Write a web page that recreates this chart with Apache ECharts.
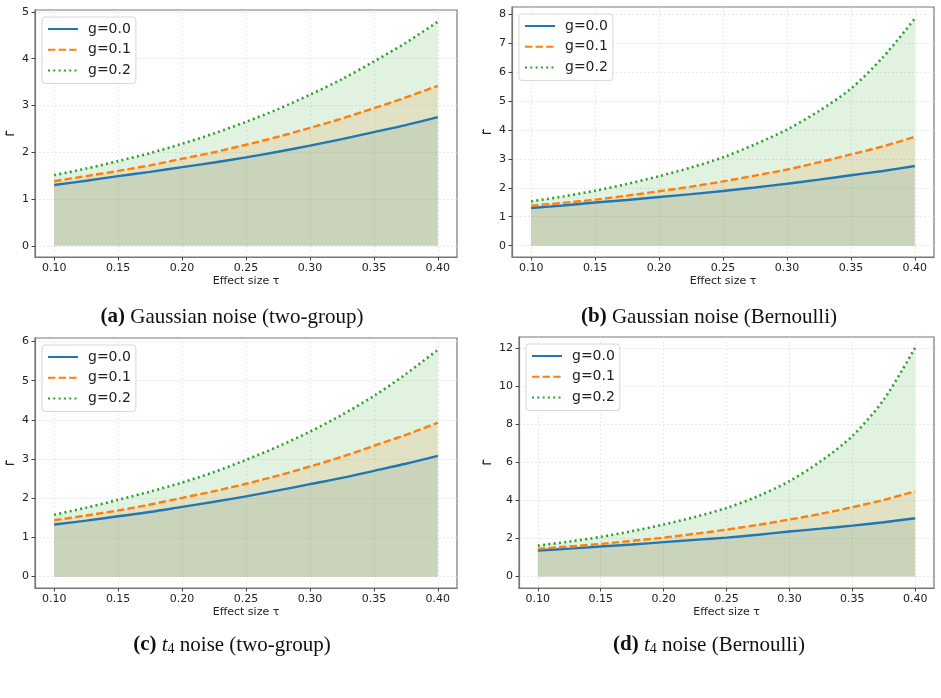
<!DOCTYPE html>
<html>
<head>
<meta charset="utf-8">
<script src="https://cdn.jsdelivr.net/npm/echarts@6/dist/echarts.min.js"></script>
<style>
  html, body { margin: 0; padding: 0; background: #fff; }
  #main { width: 941px; height: 698px; }
</style>
</head>
<body>
<div id="main"></div>
<script>
// effect size tau
const tau = [0.1, 0.125, 0.15, 0.175, 0.2, 0.225, 0.25, 0.275, 0.3, 0.325, 0.35, 0.375, 0.4]
const xTicks = [0.1, 0.15, 0.2, 0.25, 0.3, 0.35, 0.4]
const names = ['g=0.0', 'g=0.1', 'g=0.2']

// (a) Gaussian noise (two-group)
const aG0 = [1.30, 1.39, 1.49, 1.58, 1.68, 1.78, 1.89, 2.01, 2.14, 2.28, 2.43, 2.58, 2.75]
const aG1 = [1.38, 1.49, 1.60, 1.72, 1.86, 2.00, 2.16, 2.33, 2.52, 2.72, 2.94, 3.17, 3.42]
const aG2 = [1.51, 1.65, 1.81, 1.98, 2.18, 2.40, 2.65, 2.92, 3.23, 3.56, 3.94, 4.34, 4.79]
// (b) Gaussian noise (Bernoulli)
const bG0 = [1.30, 1.39, 1.49, 1.58, 1.68, 1.78, 1.89, 2.01, 2.14, 2.28, 2.43, 2.58, 2.75]
const bG1 = [1.38, 1.48, 1.59, 1.73, 1.88, 2.04, 2.22, 2.42, 2.63, 2.88, 3.15, 3.43, 3.76]
const bG2 = [1.53, 1.70, 1.90, 2.13, 2.40, 2.70, 3.05, 3.50, 4.01, 4.65, 5.42, 6.50, 7.84]
// (c) t4 noise (two-group)
const cG0 = [1.33, 1.43, 1.54, 1.65, 1.78, 1.91, 2.05, 2.20, 2.36, 2.52, 2.70, 2.88, 3.08]
const cG1 = [1.44, 1.56, 1.69, 1.84, 2.01, 2.18, 2.37, 2.58, 2.81, 3.06, 3.34, 3.62, 3.93]
const cG2 = [1.58, 1.76, 1.96, 2.17, 2.40, 2.67, 2.98, 3.32, 3.70, 4.13, 4.61, 5.17, 5.79]
// (d) t4 noise (Bernoulli)
const dG0 = [1.37, 1.47, 1.58, 1.69, 1.81, 1.93, 2.05, 2.20, 2.37, 2.52, 2.68, 2.86, 3.07]
const dG1 = [1.46, 1.58, 1.72, 1.88, 2.05, 2.25, 2.47, 2.72, 3.00, 3.30, 3.65, 4.03, 4.49]
const dG2 = [1.63, 1.84, 2.09, 2.39, 2.74, 3.14, 3.61, 4.23, 5.02, 6.07, 7.39, 9.30, 12.04]

const panels = [
    { data: [aG0, aG1, aG2], yMin: -0.24, yMax: 5.04, yTicks: [0, 1, 2, 3, 4, 5],
      grid: { left: 35, top: 10, width: 422, height: 247 } },
    { data: [bG0, bG1, bG2], yMin: -0.39, yMax: 8.24, yTicks: [0, 1, 2, 3, 4, 5, 6, 7, 8],
      grid: { left: 512, top: 7, width: 422, height: 250 } },
    { data: [cG0, cG1, cG2], yMin: -0.29, yMax: 6.09, yTicks: [0, 1, 2, 3, 4, 5, 6],
      grid: { left: 35, top: 338, width: 422, height: 250 } },
    { data: [dG0, dG1, dG2], yMin: -0.6, yMax: 12.6, yTicks: [0, 2, 4, 6, 8, 10, 12],
      grid: { left: 519, top: 337, width: 415, height: 251 } }
]

const colors = ['#1f77b4', '#ff7f0e', '#2ca02c']
const lineTypes = ['solid', [7.4, 3.2], [2, 3.3]]
const axisColor = '#777'
const gridLine = { show: true, lineStyle: { color: '#e2e2e2', width: 0.8, type: [2, 2] } }

const grids = [], xAxes = [], yAxes = [], series = [], legends = []

panels.forEach((p, k) => {
    grids.push(Object.assign({ show: true, borderColor: axisColor, borderWidth: 1.2, containLabel: false }, p.grid))
    xAxes.push({
        type: 'value', gridIndex: k, min: 0.085, max: 0.415,
        name: 'Effect size τ', nameLocation: 'middle', nameGap: 19,
        nameTextStyle: { fontFamily: 'DejaVu Sans', fontSize: 11, color: '#222' },
        axisLine: { onZero: false, lineStyle: { color: axisColor, width: 1.2 } },
        axisTick: { show: true, length: 3.5, lineStyle: { color: '#444' }, customValues: xTicks },
        axisLabel: { customValues: xTicks, margin: 6, fontFamily: 'DejaVu Sans', fontSize: 11, color: '#222',
            formatter: v => v.toFixed(2) },
        splitLine: gridLine
    })
    yAxes.push({
        type: 'value', gridIndex: k, min: p.yMin, max: p.yMax,
        name: 'Γ̃', nameLocation: 'middle', nameRotate: 90, nameGap: k === 3 ? 25 : 18,
        nameTextStyle: { fontFamily: 'DejaVu Sans', fontSize: 11, color: '#222' },
        axisLine: { show: true, onZero: false, lineStyle: { color: axisColor, width: 1.2 } },
        axisTick: { show: true, length: 3.5, lineStyle: { color: '#444' }, customValues: p.yTicks },
        axisLabel: { customValues: p.yTicks, margin: 6, fontFamily: 'DejaVu Sans', fontSize: 11, color: '#222' },
        splitLine: gridLine
    })
    // filled areas first, then the curves on top
    p.data.forEach((vals, i) => {
        series.push({
            type: 'line', name: 'fill' + i, xAxisIndex: k, yAxisIndex: k,
            data: tau.map((t, j) => [t, vals[j]]), smooth: 0.3, symbol: 'none', silent: true, z: 1,
            lineStyle: { opacity: 0 },
            areaStyle: { color: colors[i], opacity: 0.14 }
        })
    })
    p.data.forEach((vals, i) => {
        series.push({
            type: 'line', name: names[i], xAxisIndex: k, yAxisIndex: k,
            data: tau.map((t, j) => [t, vals[j]]), smooth: 0.3, symbol: 'none', z: 3,
            color: colors[i],
            lineStyle: { color: colors[i], width: i === 2 ? 2.6 : 2.4, type: lineTypes[i], cap: 'butt' }
        })
    })
    legends.push({
        data: names, orient: 'vertical',
        left: p.grid.left + 7, top: p.grid.top + 7,
        itemWidth: 30, itemHeight: 14, itemGap: 6.7, padding: [5, 5, 6, 5],
        itemStyle: { opacity: 0 },
        backgroundColor: 'rgba(255,255,255,0.85)', borderColor: '#d6d6d6', borderWidth: 1, borderRadius: 3,
        textStyle: { fontFamily: 'DejaVu Sans', fontSize: 14, color: '#222', padding: [0, 0, 0, 5] },
        selectedMode: false
    })
})

// sub-figure captions
const capFont = 'Liberation Serif'
const captions = [
    { x: 232, y: 317, tag: '(a)', parts: [{ t: ' Gaussian noise (two-group)', s: 'n' }] },
    { x: 709, y: 317, tag: '(b)', parts: [{ t: ' Gaussian noise (Bernoulli)', s: 'n' }] },
    { x: 232, y: 645, tag: '(c)', parts: [{ t: ' ', s: 'n' }, { t: 't', s: 'it' }, { t: '4', s: 'sub' }, { t: ' noise (two-group)', s: 'n' }] },
    { x: 709, y: 645, tag: '(d)', parts: [{ t: ' ', s: 'n' }, { t: 't', s: 'it' }, { t: '4', s: 'sub' }, { t: ' noise (Bernoulli)', s: 'n' }] }
]
const graphics = captions.map(c => ({
    type: 'text', x: c.x, y: c.y,
    style: {
        text: '{b|' + c.tag + '}' + c.parts.map(q => '{' + q.s + '|' + q.t + '}').join(''),
        align: 'center', verticalAlign: 'middle',
        rich: {
            b: { fontFamily: capFont, fontSize: 21, fontWeight: 'bold', fill: '#111' },
            n: { fontFamily: capFont, fontSize: 21, fill: '#111' },
            it: { fontFamily: capFont, fontSize: 21, fontStyle: 'italic', fill: '#111' },
            sub: { fontFamily: capFont, fontSize: 14, fill: '#111', padding: [9, 0, 0, 0] }
        }
    }
}))

const myChart = echarts.init(document.getElementById('main'), null, { renderer: 'canvas' })
myChart.setOption({
    animation: false,
    backgroundColor: '#fff',
    grid: grids,
    xAxis: xAxes,
    yAxis: yAxes,
    legend: legends,
    series: series,
    graphic: graphics
})
</script>
</body>
</html>
